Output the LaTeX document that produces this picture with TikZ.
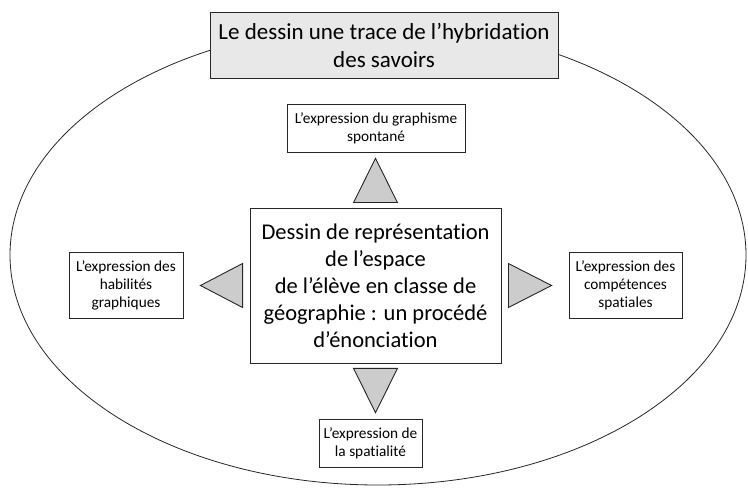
\documentclass[tikz,border=0pt]{standalone}
\usepackage{fontspec}
\setmainfont{Carlito}[Ligatures=CommonOff]
\usepackage{tikz}
\usetikzlibrary{positioning,calc}
\tikzset{title box/.style={rectangle,fill=gray!18,draw=black!85,line width=0.9pt,minimum width=348pt,minimum height=66pt,inner sep=0pt,align=center,font=\fontsize{23}{28}\selectfont},}
\tikzset{main box/.style={rectangle,fill=white,draw=black!85,line width=0.9pt,minimum width=251pt,minimum height=155pt,inner sep=0pt,align=center,font=\fontsize{22.5}{27}\selectfont},}
\tikzset{side box/.style={rectangle,fill=white,draw=black!85,line width=0.9pt,inner sep=0pt,align=center,font=\fontsize{15.3}{18}\selectfont},}
\tikzset{main triangle/.style={fill=gray!40,draw=black!85,line width=0.9pt,line join=miter},}

\begin{document}
\begin{tikzpicture}[x=1pt,y=1pt]
    \useasboundingbox (0,0) rectangle (748,488);
    \draw[line width=0.8pt,black!85] (378,233) ellipse [x radius=368pt, y radius=230pt];

    \node[title box] (titre) at (384,443) {Le dessin une trace de l’hybridation\\des savoirs};
    \node[main box] (centre) at (375.5,202.5) {Dessin de représentation\\de l’espace\\de l’élève en classe de\\géographie : un procédé\\d’énonciation};
    \node[side box,minimum width=178pt,minimum height=48pt] (haut) at (376,360) {L’expression du graphisme\\spontané};
    \node[side box,minimum width=114pt,minimum height=66pt] (habil) at (126,203) {L’expression des\\habilités\\graphiques};
    \node[side box,minimum width=113pt,minimum height=66pt] (compet) at (625.5,203) {L’expression des\\compétences\\spatiales};
    \node[side box,minimum width=103pt,minimum height=48pt] (spatial) at (370.5,45) {L’expression de\\la spatialité};

    % triangles between the boxes
    \draw[main triangle] ($(centre.north)+(-22,5)$) -- ($(centre.north)+(22,5)$) -- ($(centre.north |- haut.south)+(0,-6)$) -- cycle;
    \draw[main triangle] ($(centre.west)+(-7,22)$) -- ($(centre.west)+(-7,-22)$) -- ($(habil.east |- centre.west)+(17,0)$) -- cycle;
    \draw[main triangle] ($(centre.east)+(7,22)$) -- ($(centre.east)+(7,-22)$) -- ($(compet.west |- centre.east)+(-17,0)$) -- cycle;
    \draw[main triangle] ($(centre.south)+(-22,-5)$) -- ($(centre.south)+(22,-5)$) -- ($(centre.south |- spatial.north)+(0,6)$) -- cycle;
\end{tikzpicture}
\end{document}
